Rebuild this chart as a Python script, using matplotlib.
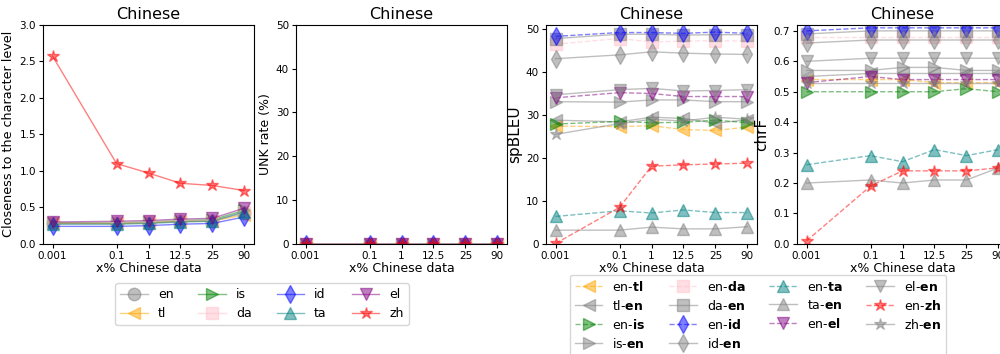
import numpy as np
import matplotlib
matplotlib.use("Agg")
import matplotlib.pyplot as plt

# x% of Chinese data in the training mix
pcts = ["0.001", "0.1", "1", "12.5", "25", "90"]
xpos = [0, 2, 3, 4, 5, 6]

langs = ["en", "tl", "is", "da", "id", "ta", "el", "zh"]
colors = {"en": "gray", "tl": "orange", "is": "green", "da": "pink",
          "id": "blue", "ta": "teal", "el": "purple", "zh": "red"}
markers = {"en": "o", "tl": "<", "is": ">", "da": "s",
           "id": "d", "ta": "^", "el": "v", "zh": "*"}

# closeness of the tokenization to the character level
closeness = {
    "en": [0.28, 0.28, 0.29, 0.31, 0.32, 0.42],
    "tl": [0.28, 0.28, 0.29, 0.31, 0.31, 0.40],
    "is": [0.29, 0.29, 0.30, 0.32, 0.33, 0.46],
    "da": [0.29, 0.29, 0.30, 0.32, 0.32, 0.43],
    "id": [0.24, 0.24, 0.25, 0.27, 0.28, 0.37],
    "ta": [0.27, 0.27, 0.28, 0.30, 0.31, 0.44],
    "el": [0.30, 0.31, 0.32, 0.34, 0.35, 0.49],
    "zh": [2.57, 1.10, 0.97, 0.83, 0.80, 0.73],
}

# UNK rate (%)
unk = {l: [0.0, 0.0, 0.0, 0.0, 0.0, 0.0] for l in langs}

# translation directions, order as in the legend
pairs = ["en-tl", "tl-en", "en-is", "is-en", "en-da", "da-en", "en-id",
         "id-en", "en-ta", "ta-en", "en-el", "el-en", "en-zh", "zh-en"]

spbleu = {
    "en-tl": [27.4, 27.3, 27.5, 26.6, 26.4, 27.2],
    "tl-en": [28.8, 28.4, 29.5, 29.2, 28.1, 28.9],
    "en-is": [27.9, 28.5, 28.2, 28.3, 28.8, 28.2],
    "is-en": [33.1, 33.0, 33.5, 33.5, 33.1, 33.1],
    "en-da": [46.5, 47.8, 47.0, 47.2, 47.3, 47.2],
    "da-en": [47.8, 48.8, 48.8, 48.6, 48.7, 48.7],
    "en-id": [48.3, 49.2, 49.2, 49.0, 49.3, 49.0],
    "id-en": [43.1, 44.0, 44.7, 44.4, 44.2, 44.1],
    "en-ta": [6.4, 7.7, 7.2, 7.9, 7.3, 7.3],
    "ta-en": [3.2, 3.2, 3.9, 3.5, 3.5, 4.0],
    "en-el": [34.0, 35.2, 35.0, 34.3, 34.3, 34.3],
    "el-en": [34.7, 35.9, 36.2, 35.6, 35.7, 35.9],
    "en-zh": [0.1, 8.5, 18.1, 18.4, 18.6, 18.8],
    "zh-en": [25.5, 28.0, 29.0, 28.6, 29.5, 29.0],
}

chrf = {
    "en-tl": [0.54, 0.54, 0.54, 0.53, 0.53, 0.53],
    "tl-en": [0.55, 0.56, 0.56, 0.56, 0.56, 0.56],
    "en-is": [0.50, 0.50, 0.50, 0.50, 0.51, 0.50],
    "is-en": [0.57, 0.57, 0.58, 0.58, 0.57, 0.57],
    "en-da": [0.68, 0.68, 0.68, 0.68, 0.68, 0.68],
    "da-en": [0.69, 0.70, 0.70, 0.70, 0.70, 0.70],
    "en-id": [0.70, 0.71, 0.71, 0.71, 0.71, 0.71],
    "id-en": [0.66, 0.67, 0.67, 0.67, 0.67, 0.67],
    "en-ta": [0.26, 0.29, 0.27, 0.31, 0.29, 0.31],
    "ta-en": [0.20, 0.21, 0.20, 0.21, 0.21, 0.25],
    "en-el": [0.53, 0.55, 0.54, 0.54, 0.54, 0.54],
    "el-en": [0.60, 0.61, 0.61, 0.61, 0.61, 0.61],
    "en-zh": [0.01, 0.19, 0.24, 0.24, 0.24, 0.25],
    "zh-en": [0.53, 0.53, 0.53, 0.53, 0.53, 0.53],
}

TITLE_FS, XLABEL_FS, TICK_FS, LEG_FS = 11.5, 9, 7.5, 9
MS = 9


def style_axis(ax, ylabel, ylabel_fs=9):
    ax.set_title("Chinese", fontsize=TITLE_FS, pad=4)
    ax.set_xticks(xpos)
    ax.set_xticklabels(pcts)
    ax.set_xlabel("x% Chinese data", fontsize=XLABEL_FS, labelpad=1)
    ax.set_ylabel(ylabel, fontsize=ylabel_fs, labelpad=3)
    ax.tick_params(labelsize=TICK_FS, length=3, pad=2)


def pair_style(p):
    src, tgt = p.split("-")
    if src == "en":  # en -> xx: coloured, dashed
        return colors[tgt], markers[tgt], "--"
    return "gray", markers[src], "-"


def pair_label(p):
    src, tgt = p.split("-")
    return src + "-" + r"$\bf{" + tgt + "}$"


fig = plt.figure(figsize=(10, 3.54), dpi=100)
h, w, b = 0.619, 0.211, 0.311
ax1 = fig.add_axes([0.043, b, w, h])
ax2 = fig.add_axes([0.296, b, w, h])
ax3 = fig.add_axes([0.546, b, w, h])
ax4 = fig.add_axes([0.797, b, w, h])

lang_handles = []
for l in langs:
    ln, = ax1.plot(xpos, closeness[l], color=colors[l], marker=markers[l],
                   ms=MS, lw=1, alpha=0.5, label=l)
    ax2.plot(xpos, unk[l], color=colors[l], marker=markers[l],
             ms=MS, lw=1, alpha=0.5)
    lang_handles.append(ln)
ax1.set_ylim(0, 3.0)
style_axis(ax1, "Closeness to the character level", 9.2)
ax2.set_ylim(0, 50)
style_axis(ax2, "UNK rate (%)")

pair_handles = []
for p in pairs:
    c, m, ls = pair_style(p)
    ln, = ax3.plot(xpos, spbleu[p], color=c, marker=m, ls=ls,
                   ms=MS, lw=1, alpha=0.5, label=pair_label(p))
    ax4.plot(xpos, chrf[p], color=c, marker=m, ls=ls, ms=MS, lw=1, alpha=0.5)
    pair_handles.append(ln)
ax3.set_ylim(0, 51)
style_axis(ax3, "spBLEU", 11)
ax4.set_ylim(0, 0.72)
style_axis(ax4, "chrF", 11)

fig.legend(handles=lang_handles, loc="upper center", ncol=4,
           bbox_to_anchor=(0.262, 0.2), fontsize=LEG_FS,
           columnspacing=2.0, handlelength=2.2, borderaxespad=0)
fig.legend(handles=pair_handles, loc="upper center", ncol=4,
           bbox_to_anchor=(0.758, 0.224), fontsize=LEG_FS,
           columnspacing=1.9, handlelength=2.2, labelspacing=0.4,
           borderaxespad=0)

fig.savefig("out.png", dpi=100)
